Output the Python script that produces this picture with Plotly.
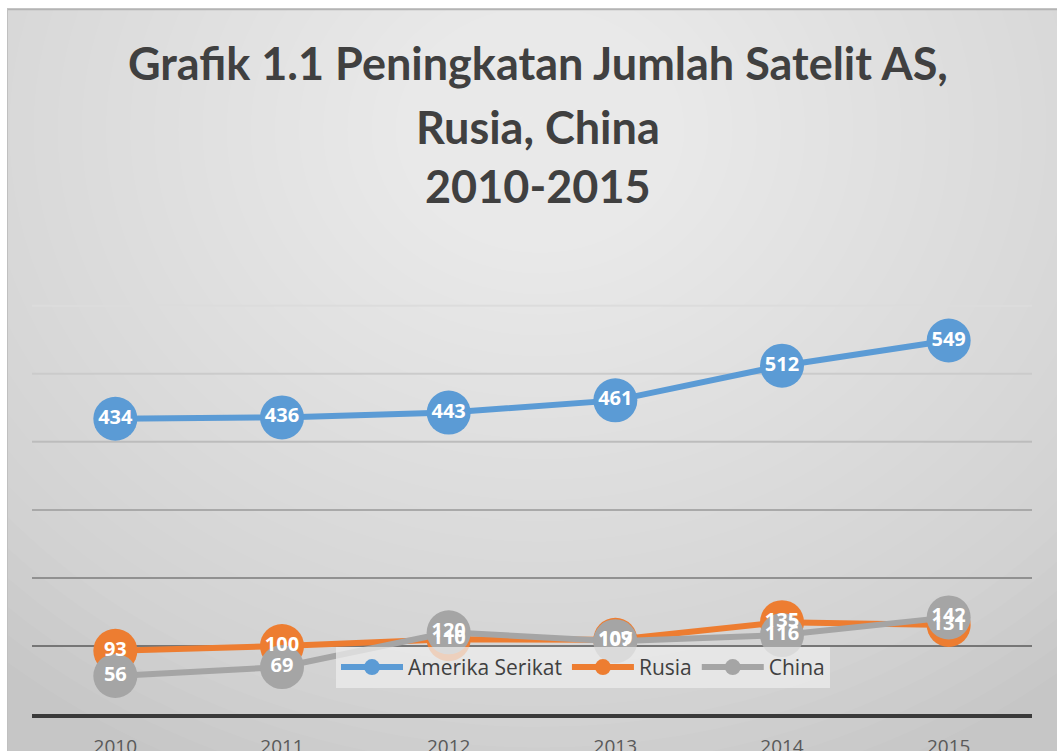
import plotly.graph_objects as go

years = ["2010", "2011", "2012", "2013", "2014", "2015"]
amerika = [434, 436, 443, 461, 512, 549]
rusia = [93, 100, 110, 109, 135, 131]
china = [56, 69, 120, 107, 116, 142]

series = [
    ("Amerika Serikat", amerika, "#5B9BD5"),
    ("Rusia", rusia, "#ED7D31"),
    ("China", china, "#A5A5A5"),
]

title_lines = ["Grafik 1.1 Peningkatan Jumlah Satelit AS,", "Rusia, China", "2010-2015"]

grid_values = [100, 200, 300, 400, 500, 600]
grid_colors = ["#767676", "#919191", "#a9a9a9", "#bcbcbc", "#cbcbcb", "#dcdcdc"]

W, H = 1057, 751
L, R_, B = 32, 1032, 714
Y_MAX = 610
T = B - Y_MAX * (408 / 600)  # keeps 600 at y=306


def px_x(p):
    return (p - L) / (R_ - L)


def px_y(p):
    return (B - p) / (B - T)


fig = go.Figure()
# lines + markers
for name, vals, col in series:
    fig.add_trace(go.Scatter(
        x=years, y=vals, name=name, mode="lines+markers",
        line=dict(color=col, width=6),
        marker=dict(size=44, color=col),
        cliponaxis=False,
    ))
# data labels drawn above every marker (as in the original)
for name, vals, col in series:
    fig.add_trace(go.Scatter(
        x=years, y=vals, name=name, mode="text", showlegend=False,
        text=[str(v) for v in vals], textposition="middle center",
        textfont=dict(family="Open Sans", size=20, color="white", weight="bold"),
        cliponaxis=False, hoverinfo="skip",
    ))

shapes = []
# base gray panel
shapes.append(dict(type="rect", xref="paper", yref="paper",
                   x0=px_x(7), x1=px_x(W + 5), y0=px_y(H + 5), y1=px_y(9),
                   fillcolor="#c6c6c6", line=dict(width=0), layer="below"))
# radial gradient built from concentric translucent ellipses
N = 34
cx, cy = 540, 130
for i in range(N):
    f = 1 - i / N
    rx, ry = 820 * f, 700 * f
    shapes.append(dict(type="circle", xref="paper", yref="paper",
                       x0=px_x(cx - rx), x1=px_x(cx + rx),
                       y0=px_y(cy + ry), y1=px_y(cy - ry),
                       fillcolor="rgba(255,255,255,0.045)", line=dict(width=0),
                       layer="below"))
# top / left border
shapes.append(dict(type="line", xref="paper", yref="paper",
                   x0=px_x(7), x1=px_x(W + 5), y0=px_y(9.5), y1=px_y(9.5),
                   line=dict(color="#b4b4b4", width=2), layer="below"))
shapes.append(dict(type="line", xref="paper", yref="paper",
                   x0=px_x(7.5), x1=px_x(7.5), y0=px_y(9), y1=px_y(H + 5),
                   line=dict(color="#c0c0c0", width=1), layer="below"))
# horizontal gridlines (colour fades towards the top like the original)
for gv, gc in zip(grid_values, grid_colors):
    shapes.append(dict(type="line", xref="paper", yref="y", x0=0, x1=1, y0=gv, y1=gv,
                       line=dict(color=gc, width=2), layer="below"))

annotations = []
for text, yc in zip(title_lines, [63, 127, 186]):
    annotations.append(dict(
        text=f"<b>{text}</b>", x=px_x(538), y=px_y(yc), xref="paper", yref="paper",
        xanchor="center", yanchor="middle", showarrow=False,
        font=dict(family="Lato", size=45, color="#404040"),
    ))

fig.update_layout(
    width=W, height=H,
    margin=dict(l=L, r=W - R_, t=T, b=H - B, autoexpand=False),
    paper_bgcolor="white", plot_bgcolor="rgba(0,0,0,0)",
    shapes=shapes, annotations=annotations,
    showlegend=True,
    legend=dict(orientation="h", x=px_x(583), xanchor="center", y=px_y(647), yanchor="top",
                bgcolor="rgba(236,236,236,0.75)", itemwidth=62,
                font=dict(family="Open Sans", size=21, color="#404040")),
    xaxis=dict(type="category", range=[-0.5, 5.5], showgrid=False, zeroline=False,
               showline=True, linecolor="#3a3a3a", linewidth=4, ticks="",
               ticklabelstandoff=12,
               tickfont=dict(family="Open Sans", size=19, color="#595959"),
               automargin=False, fixedrange=True),
    yaxis=dict(range=[0, Y_MAX], showgrid=False, zeroline=False,
               showticklabels=False, automargin=False),
)

fig.write_html("out.html")
